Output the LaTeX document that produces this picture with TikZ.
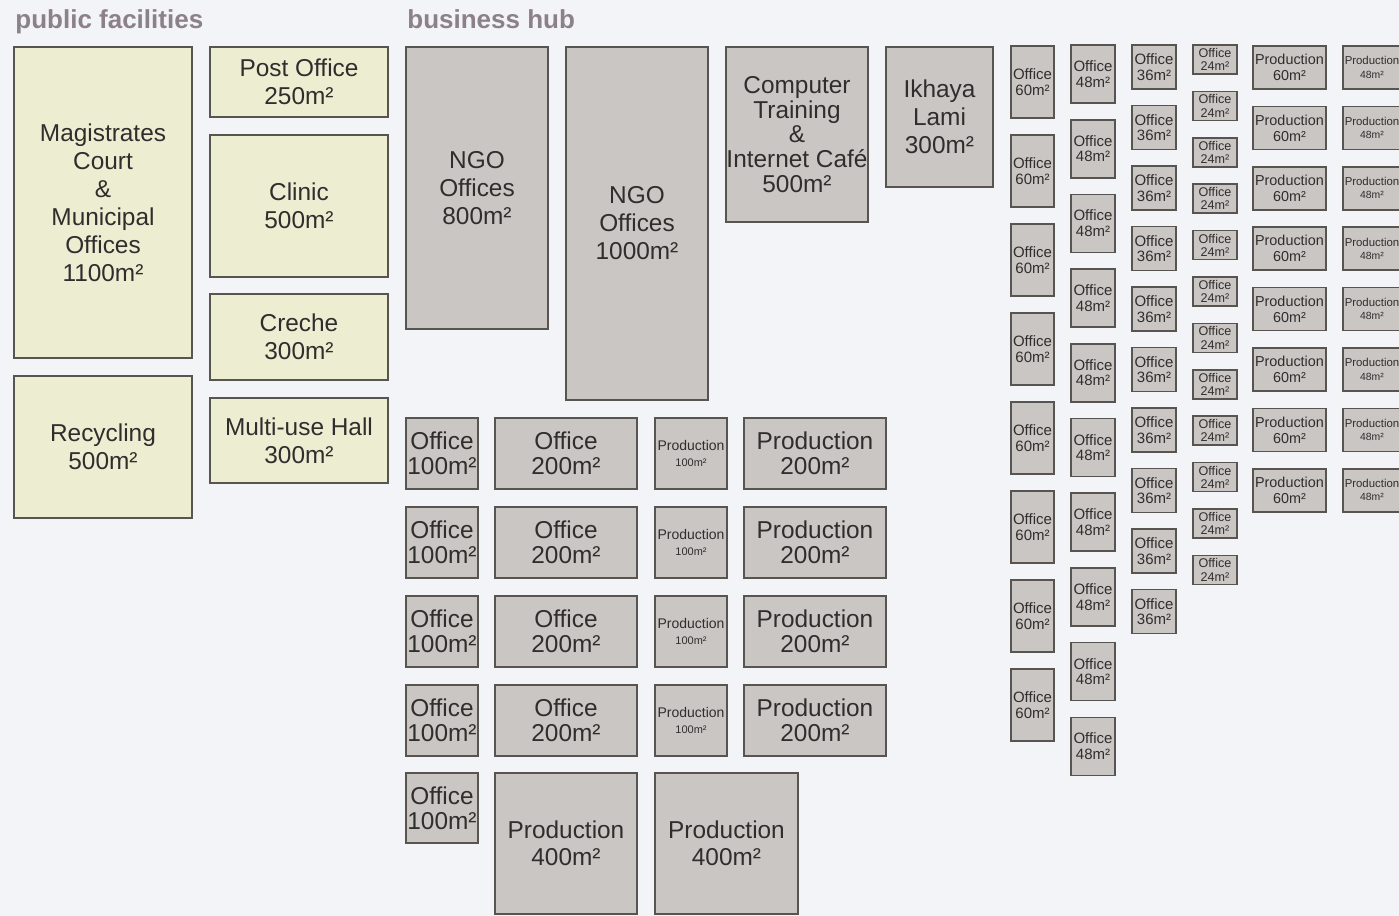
\documentclass[tikz,border=0pt]{standalone}
\usepackage{fontspec}
\setmainfont{Liberation Sans}
\usepackage{tikz}
\definecolor{roomedge}{RGB}{88,84,80}
\definecolor{civicfill}{RGB}{237,237,210}
\definecolor{hubfill}{RGB}{201,198,195}
\definecolor{headgray}{RGB}{140,128,138}
\definecolor{paper}{RGB}{243,244,247}
\definecolor{labelgray}{RGB}{48,45,45}

\begin{document}
\begin{tikzpicture}[
    x=0.5pt, y=-0.5pt,
    room/.style={rectangle, draw=roomedge, line width=0.9pt, inner sep=0pt, outer sep=0pt, align=center, text=labelgray, font=\fontsize{12.2}{14}\selectfont},
    civic/.style={room, fill=civicfill},
    hub/.style={room, fill=hubfill},
    snug/.style={font=\fontsize{12.2}{12.4}\selectfont},
    unit/.style={hub, line width=0.8pt, font=\fontsize{7.5}{7.8}\selectfont},
    smallunit/.style={hub, line width=0.8pt, font=\fontsize{6.3}{6.6}\selectfont},
    roomsize/.style 2 args={minimum width=#1*0.5pt, minimum height=#2*0.5pt},
    heading/.style={anchor=base west, inner sep=0pt, text=headgray, font=\fontsize{13}{15}\selectfont\bfseries}
]
\useasboundingbox (0,0) rectangle (1399,916);
\fill[paper] (0,0) rectangle (1399,916);
\clip (0,0) rectangle (1399,916);

% Headings
\node[heading] (pubhead) at (15,28) {public facilities};
\node[heading] (hubhead) at (407,28) {business hub};

% Public facilities
\node[civic, roomsize={178}{311}] (court) at (103,202.5) {Magistrates\\Court\\\&\\Municipal\\Offices\\1100m²};
\node[civic, roomsize={178}{142}] (recycle) at (103,447) {Recycling\\500m²};
\node[civic, roomsize={178}{70}] (post) at (299,82) {Post Office\\250m²};
\node[civic, roomsize={178}{142}] (clinic) at (299,206) {Clinic\\500m²};
\node[civic, roomsize={178}{86}] (creche) at (299,337) {Creche\\300m²};
\node[civic, roomsize={178}{85}] (hall) at (299,440.5) {Multi-use Hall\\300m²};

% Business hub: large units
\node[hub, roomsize={142}{282}] (ngoa) at (477,188) {NGO\\Offices\\800m²};
\node[hub, roomsize={142}{353}] (ngob) at (637,223.5) {NGO\\Offices\\1000m²};
\node[hub, snug, roomsize={142}{175}] (cafe) at (797,134.5) {Computer\\Training\\\&\\Internet Café\\500m²};
\node[hub, roomsize={107}{140}] (ikhaya) at (939.5,117) {Ikhaya\\Lami\\300m²};

% Business hub: grid of offices and workshops
\foreach \r in {0,...,3} {
  \pgfmathsetmacro\yc{453.5+89*\r}
  \node[hub, snug, roomsize={72}{71}] (offc-\r) at (442,\yc) {Office\\100m²};
  \node[hub, snug, roomsize={142}{71}] (offd-\r) at (566,\yc) {Office\\200m²};
  \node[hub, roomsize={72}{71}, font=\fontsize{7}{8}\selectfont] (prodc-\r) at (691,\yc) {Production\\{\fontsize{5.5}{6}\selectfont 100m²}};
  \node[hub, snug, roomsize={142}{71}] (prodd-\r) at (815,\yc) {Production\\200m²};
}
\node[hub, snug, roomsize={72}{70}] (offc-4) at (442,808) {Office\\100m²};
\node[hub, font=\fontsize{12.2}{13.5}\selectfont, roomsize={142}{141}] (prode-a) at (566,843.5) {Production\\400m²};
\node[hub, font=\fontsize{12.2}{13.5}\selectfont, roomsize={143}{141}] (prode-b) at (726.5,843.5) {Production\\400m²};

% Small units
\foreach \i in {0,...,7}
  \node[unit, roomsize={43}{72}] (offsixty-\i) at (1032.5,{82+89*\i}) {Office\\60m²};
\foreach \i in {0,...,9}
  \node[unit, roomsize={44}{58}] (offfortyeight-\i) at (1093,{74+74.7*\i}) {Office\\48m²};
\foreach \i in {0,...,9}
  \node[unit, roomsize={44}{44}] (offthirtysix-\i) at (1154,{67+60.5*\i}) {Office\\36m²};
\foreach \i in {0,...,11}
  \node[smallunit, roomsize={44}{29}] (offtwentyfour-\i) at (1215,{59.5+46.4*\i}) {Office\\24m²};
\foreach \i in {0,...,7} {
  \node[unit, font=\fontsize{7.2}{8}\selectfont, roomsize={73}{43}] (prodsixty-\i) at (1289.5,{67.5+60.4*\i}) {Production\\60m²};
  \node[smallunit, font=\fontsize{5.7}{6.6}\selectfont, roomsize={58}{43}] (prodfortyeight-\i) at (1372,{67.5+60.4*\i}) {Production\\{\fontsize{5.2}{6}\selectfont 48m²}};
}

\end{tikzpicture}
\end{document}
